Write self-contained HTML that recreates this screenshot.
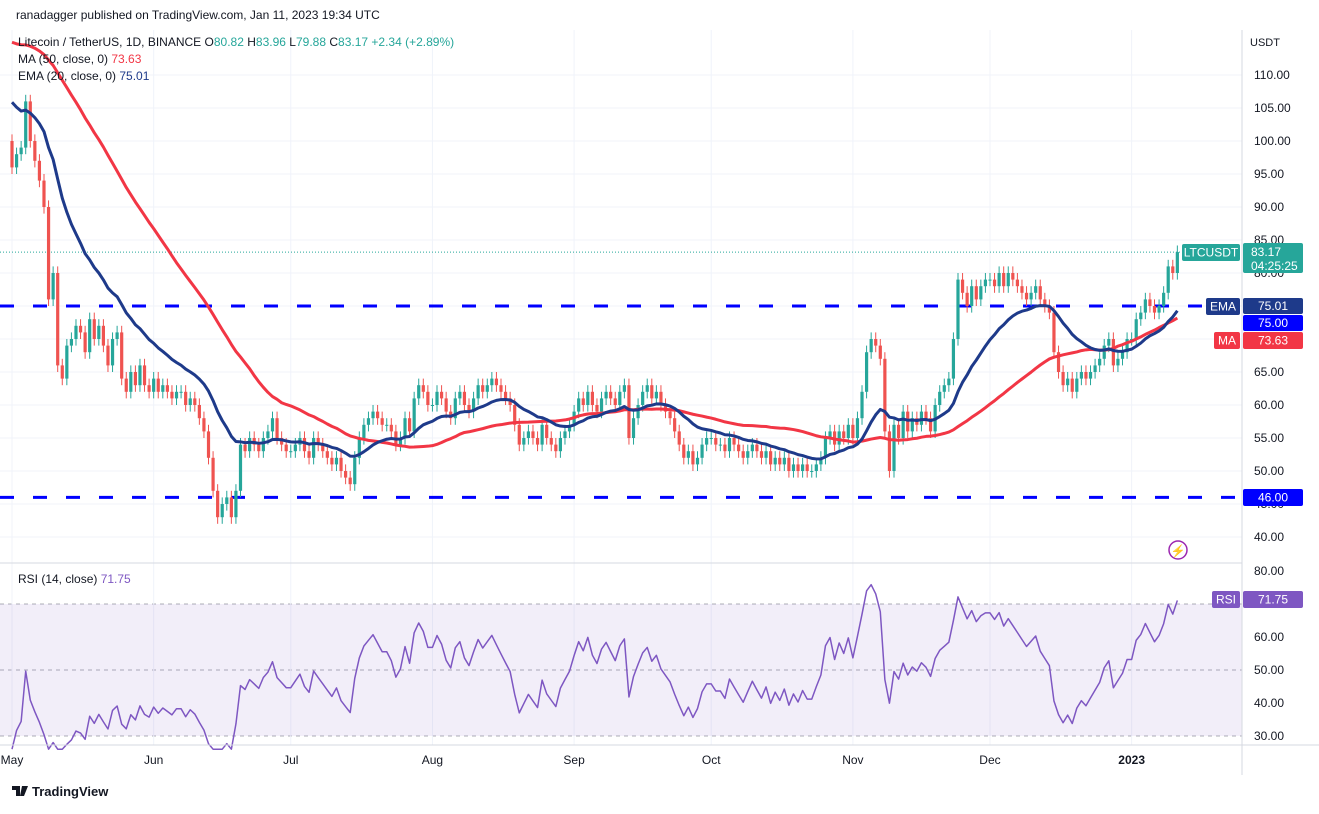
<!DOCTYPE html>
<html><head><meta charset="utf-8">
<style>
body{margin:0;background:#fff;font-family:"Liberation Sans",sans-serif;}
svg text{font-family:"Liberation Sans",sans-serif;}
</style></head>
<body>
<svg id="c" width="1319" height="809" xmlns="http://www.w3.org/2000/svg">
<rect width="1319" height="809" fill="#fff"/>
<g id="grid"></g>
<rect x="0" y="604" width="1242" height="132" fill="#7e57c2" opacity="0.1"/>
<g id="marks"></g>
<line x1="0" y1="563" x2="1242" y2="563" stroke="#d6d9e0"/>
<line x1="1242" y1="30" x2="1242" y2="775" stroke="#d6d9e0"/>
<line x1="0" y1="745" x2="1319" y2="745" stroke="#d6d9e0"/>
<text x="16" y="19" font-size="12" fill="#131722">ranadagger published on TradingView.com, Jan 11, 2023 19:34 UTC</text>
<text x="1250" y="46" font-size="11" fill="#131722">USDT</text>
<text x="18" y="46" font-size="12" fill="#131722">Litecoin / TetherUS, 1D, BINANCE <tspan fill="#131722">O</tspan><tspan fill="#26a69a">80.82 </tspan>H<tspan fill="#26a69a">83.96 </tspan>L<tspan fill="#26a69a">79.88 </tspan>C<tspan fill="#26a69a">83.17 +2.34 (+2.89%)</tspan></text>
<text x="18" y="63" font-size="12" fill="#131722">MA (50, close, 0) <tspan fill="#f23645">73.63</tspan></text>
<text x="18" y="80" font-size="12" fill="#131722">EMA (20, close, 0) <tspan fill="#1e3a8a">75.01</tspan></text>
<text x="18" y="583" font-size="12" fill="#131722">RSI (14, close) <tspan fill="#7e57c2">71.75</tspan></text>
<g id="labels"></g>
<circle cx="1178" cy="550" r="9" fill="none" stroke="#9c27b0" stroke-width="1.5"/>
<text x="1178" y="555" font-size="12" fill="#9c27b0" text-anchor="middle">⚡</text>
<text x="32" y="796" font-size="13" font-weight="bold" fill="#131722">TradingView</text>
<path d="M12 786h8v10h-4v-6h-4z M22 786h6l-4 10h-4z" fill="#131722"/>
</svg>
<script>
const preCloses=[108,110,106,107,110,112,115,117,118,120,122,121,124,127,126,128,130,127,128,124,126,128,130,131,126,124,120,118,116,115,114,112,113,114,112,115,114,110,108,107,106,105,104,105,103,101,102,100,101,100];
const closes=[
96,98,99,106,100,97,94,90,76,80,66,64,69,70,72,71,68,73,70,72,69,66,70,71,64,62,65,63,66,63,62,
64,62,63,62,61,62,62,60,61,60,58,56,52,47,43,45,46,43,47,54,53,55,54,53,55,56,58,55,54,53,
53,54,55,53,52,55,54,53,52,51,52,50,49,48,52,55,57,58,59,58,57,57,56,54,55,58,56,61,63,62,60,
60,62,61,59,58,61,62,60,59,61,63,62,63,64,63,62,61,60,57,54,55,56,55,54,57,55,54,53,55,56,57,
59,61,60,62,60,59,61,62,61,60,62,63,55,58,60,62,63,61,62,60,59,58,56,54,52,53,51,52,54,55,
55,54,54,53,55,54,53,52,53,54,53,52,53,51,52,51,52,50,51,50,51,50,50,51,52,55,56,54,56,55,57,
55,58,62,68,70,69,67,56,50,57,55,59,56,58,57,59,58,56,60,62,63,64,70,79,77,75,78,76,78,79,
79,78,80,78,80,79,78,77,76,77,78,76,75,74,68,65,63,64,62,64,65,64,65,66,67,69,70,66,67,68,70,
70,73,74,76,75,74,75,77,81,80,83.17];
const priceTicks=[110,105,100,95,90,85,80,75,70,65,60,55,50,45,40];
const rsiTicks=[80,70,60,50,40,30];
const monthLabels=["May","Jun","Jul","Aug","Sep","Oct","Nov","Dec","2023"];
const monthDays=[0,31,61,92,123,153,184,214,245];
const levels=[75,46];

const NS="http://www.w3.org/2000/svg";
const X=i=>12+i*4.57;
const Y=p=>75+(110-p)*6.6;
const R=v=>571+(80-v)*3.3;
function mk(t,a,parent){const e=document.createElementNS(NS,t);for(const k in a)e.setAttribute(k,a[k]);parent.appendChild(e);return e;}
const grid=document.getElementById('grid'),marks=document.getElementById('marks'),labels=document.getElementById('labels');

priceTicks.forEach(p=>{
 const l=mk('line',{x1:0,x2:1242,y1:Y(p),y2:Y(p),stroke:'#f0f3fa'},grid);
 
 
 const t=mk('text',{x:1254,y:Y(p)+4,'font-size':12,fill:'#131722'},labels);t.textContent=p.toFixed(2);
 
 
});
rsiTicks.forEach(v=>{
 const t=mk('text',{x:1254,y:R(v)+4,'font-size':12,fill:'#131722'},labels);t.textContent=v.toFixed(2);
 
 
});
[70,50,30].forEach(v=>{
 const l=mk('line',{x1:0,x2:1242,y1:R(v),y2:R(v),stroke:'#787b86','stroke-dasharray':'4 4','stroke-width':1,opacity:0.6},grid);
 
 
});
monthDays.forEach((d,k)=>{
 const l=mk('line',{x1:X(d),x2:X(d),y1:30,y2:745,stroke:'#f0f3fa'},grid);
 
 
 const t=mk('text',{x:X(d),y:764,'font-size':12,fill:'#131722','text-anchor':'middle','font-weight':monthLabels[k]=="2023"?'bold':'normal'},labels);t.textContent=monthLabels[k];
 
 
});
levels.forEach(p=>{
 const l=mk('line',{x1:0,x2:1242,y1:Y(p),y2:Y(p),stroke:'#0000ff','stroke-width':3,'stroke-dasharray':'14 19'},marks);
 
 
});
// last price line
const lp=mk('line',{x1:0,x2:1242,y1:Y(83.17),y2:Y(83.17),stroke:'#26a69a','stroke-dasharray':'1 2'},marks);



// candles
for(let i=0;i<closes.length;i++){
 const o=i?closes[i-1]:preCloses[preCloses.length-1],c=closes[i];
 const up=c>=o,col=up?'#26a69a':'#ef5350';
 const w=mk('line',{x1:X(i),x2:X(i),y1:Y(Math.max(o,c)+1),y2:Y(Math.min(o,c)-1),stroke:col},marks);
 
 
 const b=mk('rect',{x:X(i)-1.6,width:3.2,y:Y(Math.max(o,c)),height:Math.max(1,Math.abs(Y(o)-Y(c))),fill:col},marks);
 
 
}
// indicators
const all=preCloses.concat(closes),off=preCloses.length;
let ma=[],ema=[],e=all[0];
for(let j=0;j<all.length;j++){e=j?e+(all[j]-e)*2/21:all[j];
 if(j>=off){let s=0;for(let k=j-49;k<=j;k++)s+=all[k];ma.push(s/50);ema.push(e);}}
function poly(arr,f,col,name){
 const p=mk('polyline',{points:arr.map((v,i)=>X(i)+','+f(v)).join(' '),fill:'none',stroke:col,'stroke-width':name=='rsi-line'?1.5:3,'stroke-linejoin':'round'},marks);
 
 
}
poly(ma,Y,'#f23645','ma50-line');
poly(ema,Y,'#1e3a8a','ema20-line');
// RSI
let ag=0,al=0,rsi=[];
for(let j=1;j<all.length;j++){const d=all[j]-all[j-1],g=Math.max(d,0),l=Math.max(-d,0);
 if(j<=14){ag+=g/14;al+=l/14;}else{ag=(ag*13+g)/14;al=(al*13+l)/14;}
 if(j>=off)rsi.push(Math.min(100,100-100/(1+ag/Math.max(al,1e-6))));}
poly(rsi.map(v=>Math.max(v,26)),R,'#7e57c2','rsi-line');

// right labels
function box(x,y,w,h,fill,txt,name,tc){
 const r=mk('rect',{x:x,y:y,width:w,height:h,fill:fill,rx:2},labels);
 
 
 const t=mk('text',{x:x+w/2,y:y+h/2+4,'font-size':12,fill:tc||'#fff','text-anchor':'middle'},labels);t.textContent=txt;
 
 
}
box(1182,244,58,17,'#26a69a','LTCUSDT','symbol-tag');
box(1243,243,60,30,'#26a69a','','last-price-box');
[['83.17',256],['04:25:25',270]].forEach(([s,y])=>{const t=mk('text',{x:1251,y:y,'font-size':12,fill:'#fff'},labels);t.textContent=s;
 
 });
box(1206,298,34,17,'#1e3a8a','EMA','ema-tag');
box(1243,298,60,16,'#1e3a8a','75.01','ema-price-box');
box(1243,315,60,16,'#0000ff','75.00','level-75-box');
box(1214,332,26,17,'#f23645','MA','ma-tag');
box(1243,332,60,17,'#f23645','73.63','ma-price-box');
box(1243,489,60,17,'#0000ff','46.00','level-46-box');
box(1212,591,28,17,'#7e57c2','RSI','rsi-tag');
box(1243,591,60,17,'#7e57c2','71.75','rsi-value-box');
</script>
</body></html>
